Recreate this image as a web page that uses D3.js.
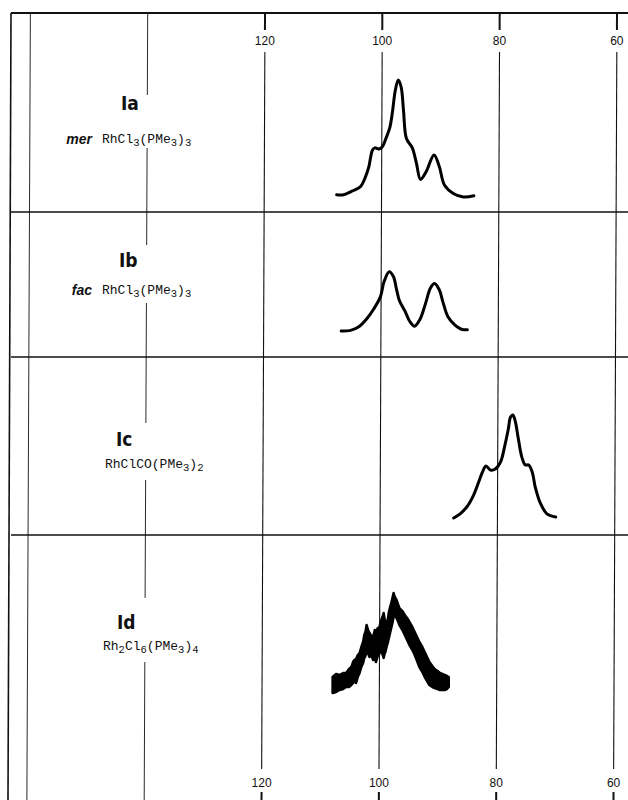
<!DOCTYPE html>
<html>
<head>
<meta charset="utf-8">
<script src="https://cdn.jsdelivr.net/npm/d3@7"></script>
<style>
  body { margin: 0; background: #fff; }
  svg { display: block; }
</style>
</head>
<body>
<div id="chart"></div>
<script>
// chemical shift grid (ppm)
const gridPpm = [160, 140, 120, 100, 80, 60];
const tickLabels = [120, 100, 80, 60];

const panelIds = ['Ia', 'Ib', 'Ic', 'Id'];
const isomers = ['mer', 'fac', '', ''];
// formula pieces: [text, isSubscript]
const formulas = [
    [['RhCl', 0], ['3', 1], ['(PMe', 0], ['3', 1], [')', 0], ['3', 1]],
    [['RhCl', 0], ['3', 1], ['(PMe', 0], ['3', 1], [')', 0], ['3', 1]],
    [['RhClCO(PMe', 0], ['3', 1], [')', 0], ['2', 1]],
    [['Rh', 0], ['2', 1], ['Cl', 0], ['6', 1], ['(PMe', 0], ['3', 1], [')', 0], ['4', 1]]
];

// Ia  mer-RhCl3(PMe3)3
const ppmA = [107.7, 106.5, 105.1, 103.6, 102.8, 102.2, 101.6, 101.2, 100.5, 99.9, 99.3, 98.6, 98.2, 97.7, 97.2,
    96.7, 96.3, 95.8, 94.8, 94.1, 93.4, 92.4, 91.1, 90.2, 89.3, 87.8, 86.1, 84.3];
const intA = [0.02, 0.02, 0.05, 0.09, 0.17, 0.26, 0.40, 0.42, 0.41, 0.43, 0.50, 0.60, 0.72, 0.91, 1.00,
    0.94, 0.74, 0.50, 0.42, 0.29, 0.15, 0.22, 0.36, 0.26, 0.10, 0.03, 0.00, 0.01];

// Ib  fac-RhCl3(PMe3)3
const ppmB = [106.8, 105.2, 103.8, 102.4, 101.2, 100.1, 99.5, 98.6, 97.9, 97.4, 96.9, 95.9, 95.1, 94.3, 93.4,
    92.4, 91.6, 90.9, 90.1, 89.4, 88.6, 87.4, 86.3, 85.3];
const intB = [0.00, 0.01, 0.07, 0.21, 0.38, 0.58, 0.83, 1.00, 0.92, 0.72, 0.52, 0.33, 0.16, 0.08, 0.19,
    0.47, 0.72, 0.80, 0.70, 0.47, 0.24, 0.10, 0.03, 0.02];

// Ic  RhClCO(PMe3)2
const ppmC = [87.5, 86.4, 85.2, 84.1, 83.2, 82.6, 82.0, 81.2, 80.4, 79.5, 78.8, 78.2, 77.8, 77.4, 77.0,
    76.5, 75.9, 75.3, 74.7, 74.1, 73.6, 72.7, 71.6, 70.1];
const intC = [0.01, 0.05, 0.12, 0.23, 0.36, 0.45, 0.51, 0.47, 0.48, 0.55, 0.70, 0.86, 0.98, 1.00, 0.94,
    0.78, 0.60, 0.52, 0.52, 0.45, 0.31, 0.15, 0.05, 0.02];

// Id  Rh2Cl6(PMe3)4 - noisy trace, upper and lower edge of the band
const ppmD = [108.0, 107.4, 106.8, 106.2, 105.7, 105.2, 104.8, 104.5, 104.3, 104.0, 103.7, 103.4, 103.1, 102.8,
    102.6, 102.4, 102.2, 101.9, 101.7, 101.4, 101.1, 100.8, 100.6, 100.3, 100.1, 99.9, 99.7, 99.5, 99.3, 99.1,
    99.0, 98.8, 98.6, 98.4, 98.2, 98.0, 97.8, 97.6, 97.4, 97.1, 96.8, 96.6, 96.1, 95.7, 95.3, 94.9, 94.4, 94.0,
    93.6, 93.2, 92.7, 92.3, 91.9, 91.5, 91.0, 90.6, 90.1, 89.7, 89.3, 88.9, 88.5, 88.2];
const hiD = [0.23, 0.26, 0.25, 0.27, 0.27, 0.31, 0.33, 0.38, 0.40, 0.41, 0.45, 0.47, 0.53, 0.58,
    0.65, 0.68, 0.75, 0.69, 0.67, 0.64, 0.63, 0.70, 0.67, 0.72, 0.70, 0.76, 0.80, 0.83, 0.87, 0.80,
    0.77, 0.79, 0.80, 0.88, 0.93, 0.97, 1.02, 1.07, 1.03, 1.00, 0.95, 0.92, 0.89, 0.85, 0.82, 0.78, 0.73, 0.68,
    0.63, 0.58, 0.53, 0.48, 0.43, 0.38, 0.34, 0.31, 0.29, 0.27, 0.26, 0.25, 0.24, 0.23];
const loD = [0.07, 0.08, 0.10, 0.11, 0.13, 0.13, 0.15, 0.17, 0.20, 0.17, 0.23, 0.27, 0.33, 0.37,
    0.42, 0.44, 0.48, 0.46, 0.43, 0.45, 0.40, 0.41, 0.38, 0.44, 0.45, 0.50, 0.48, 0.46, 0.42, 0.47,
    0.48, 0.53, 0.57, 0.62, 0.67, 0.72, 0.77, 0.83, 0.84, 0.82, 0.78, 0.75, 0.70, 0.65, 0.60, 0.55, 0.50, 0.45,
    0.39, 0.33, 0.28, 0.23, 0.19, 0.15, 0.13, 0.12, 0.11, 0.10, 0.10, 0.10, 0.11, 0.13];

const W = 628, H = 800;
const frameTop = 13, frameLeft = 11;

// the scanned sheet is slightly skewed: grid lines drift left towards the bottom
const xTop = d3.scaleLinear().domain([140, 60]).range([147.7, 617]);
const xBot = d3.scaleLinear().domain([140, 60]).range([144.2, 613.5]);
const xAt = (v, y) => {
    const t = (y - frameTop) / (H - frameTop);
    return xTop(v) + t * (xBot(v) - xTop(v));
};

const panels = [
    { base: 197, peak: 80, labelY: 110, labelX: 121, formulaX: 102, formulaY: 143 },
    { base: 331, peak: 271.7, labelY: 267, labelX: 119, formulaX: 102, formulaY: 294 },
    { base: 519, peak: 415, labelY: 446, labelX: 116, formulaX: 105, formulaY: 468 },
    { base: 700, peak: 600, labelY: 629, labelX: 117, formulaX: 103, formulaY: 650 }
];
const separators = [212, 357, 535];

const svg = d3.select('#chart').append('svg')
    .attr('width', W).attr('height', H);

// ----- frame and grid -----
const grid = svg.append('g').attr('stroke', '#111').attr('fill', 'none');

grid.append('line')
    .attr('x1', frameLeft).attr('x2', W).attr('y1', frameTop).attr('y2', frameTop)
    .attr('stroke-width', 2);
grid.append('line')
    .attr('x1', frameLeft).attr('x2', frameLeft - 3).attr('y1', frameTop).attr('y2', H)
    .attr('stroke-width', 1.6);

separators.forEach(y => {
    grid.append('line')
        .attr('x1', frameLeft).attr('x2', W).attr('y1', y).attr('y2', y)
        .attr('stroke-width', 1.6);
});

const gapsFor = v => {
    if (v === 160) return [[frameTop, H]];
    if (v === 140) return [[frameTop, 95], [148, 245], [303, 423], [480, 598], [662, H]];
    return [[frameTop, 30], [52, 769], [792, H]];
};

gridPpm.forEach(v => {
    gapsFor(v).forEach(([y1, y2], i, arr) => {
        const isTick = tickLabels.includes(v) && (i === 0 || i === arr.length - 1);
        grid.append('line')
            .attr('x1', xAt(v, y1)).attr('y1', y1)
            .attr('x2', xAt(v, y2)).attr('y2', y2)
            .attr('stroke-width', isTick ? 2 : (v === 160 || v === 140 ? 0.9 : 1.1));
    });
});

// axis numbers top and bottom
const axisFont = '"Liberation Sans", Arial, sans-serif';
[45, 787].forEach(y => {
    svg.append('g').selectAll('text')
        .data(tickLabels).join('text')
        .attr('x', d => xAt(d, y))
        .attr('y', y)
        .attr('text-anchor', 'middle')
        .style('font-family', axisFont)
        .style('font-size', '12px')
        .style('fill', '#111')
        .text(d => d);
});

// ----- labels -----
panels.forEach((p, i) => {
    svg.append('text')
        .attr('x', p.labelX).attr('y', p.labelY)
        .style('font-family', '"DejaVu Sans Condensed", "DejaVu Sans", sans-serif')
        .style('font-weight', 'bold')
        .style('font-size', '19px')
        .style('fill', '#111')
        .text(panelIds[i]);

    if (isomers[i]) {
        svg.append('text')
            .attr('x', 92).attr('y', p.formulaY + 1)
            .attr('text-anchor', 'end')
            .style('font-family', '"Liberation Sans", Arial, sans-serif')
            .style('font-weight', 'bold')
            .style('font-style', 'italic')
            .style('font-size', '14px')
            .style('fill', '#111')
            .text(isomers[i]);
    }

    const t = svg.append('text')
        .attr('x', p.formulaX).attr('y', p.formulaY)
        .style('font-family', '"Liberation Mono", "Courier New", monospace')
        .style('font-size', '13px')
        .style('fill', '#111');
    let down = false;
    formulas[i].forEach(([s, sub]) => {
        const span = t.append('tspan').text(s);
        if (sub && !down) { span.attr('dy', 3).style('font-size', '10.5px'); down = true; }
        else if (sub) { span.style('font-size', '10.5px'); }
        else if (down) { span.attr('dy', -3); down = false; }
    });
});

// ----- spectra -----
const series = [[ppmA, intA], [ppmB, intB], [ppmC, intC]];
series.forEach(([ppm, inten], i) => {
    const p = panels[i];
    const ymid = (p.base + p.peak) / 2;
    const y = d3.scaleLinear().domain([0, 1]).range([p.base, p.peak]);
    const line = d3.line()
        .x(d => xAt(d[0], ymid))
        .y(d => y(d[1]))
        .curve(d3.curveCatmullRom.alpha(0.5));
    svg.append('path')
        .datum(d3.zip(ppm, inten))
        .attr('fill', 'none')
        .attr('stroke', '#000')
        .attr('stroke-width', 3)
        .attr('stroke-linejoin', 'round')
        .attr('stroke-linecap', 'round')
        .attr('d', line);
});

{
    const p = panels[3];
    const ymid = (p.base + p.peak) / 2;
    const y = d3.scaleLinear().domain([0, 1]).range([p.base, p.peak]);
    const area = d3.area()
        .x(d => xAt(d[0], ymid))
        .y0(d => y(d[2]))
        .y1(d => y(d[1]));
    svg.append('path')
        .datum(d3.zip(ppmD, hiD, loD))
        .attr('fill', '#000')
        .attr('stroke', '#000')
        .attr('stroke-width', 2.5)
        .attr('stroke-linejoin', 'round')
        .attr('d', area);
}
</script>
</body>
</html>
